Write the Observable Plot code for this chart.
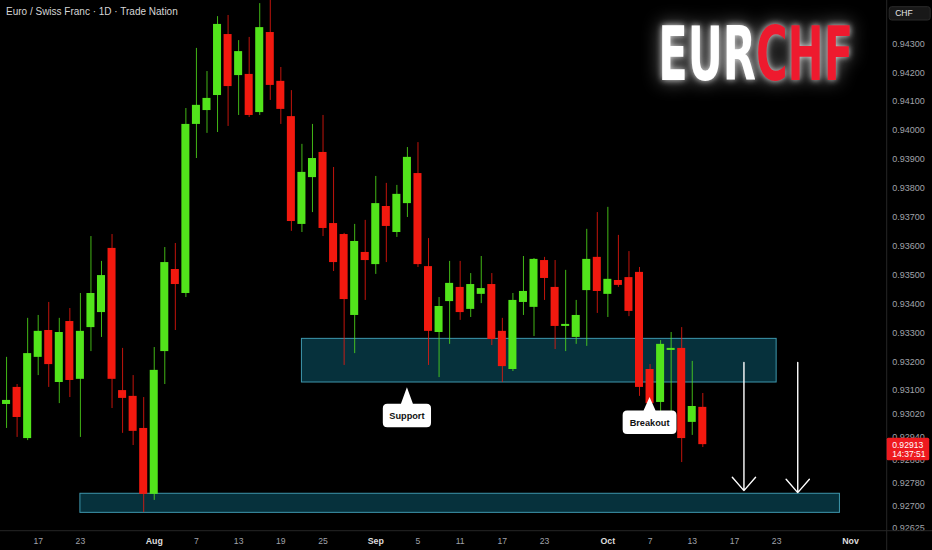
<!DOCTYPE html>
<html><head><meta charset="utf-8">
<script src="https://cdn.jsdelivr.net/npm/d3@7"></script>
<script src="https://cdn.jsdelivr.net/npm/@observablehq/plot@0.6"></script>
<style>
html,body{margin:0;padding:0;background:#000;}
#chart svg{display:block}
</style></head><body><div id="chart"></div>
<script>
// Daily candles, EUR/CHF, 14 Jul 2025 .. 14 Oct 2025 (trading-day index 0..66)
const open = [0.93052,0.93111,0.92934,0.93215,0.93308,0.93128,0.93339,0.93139,0.93318,0.93370,
  0.93592,0.93100,0.93080,0.92969,0.92741,0.93235,0.93519,0.93436,0.94021,0.94069,
  0.94121,0.94332,0.94190,0.94194,0.94062,0.94339,0.94170,0.94048,0.93675,0.93837,
  0.93924,0.93678,0.93640,0.93360,0.93578,0.93536,0.93737,0.93647,0.93747,0.93851,
  0.93529,0.93301,0.93408,0.93457,0.93381,0.93433,0.93467,0.93305,0.93173,0.93405,
  0.93388,0.93550,0.93457,0.93322,0.93284,0.93446,0.93561,0.93433,0.93481,0.93491,
  0.93509,0.93173,0.93059,0.93239,0.93246,0.92990,0.93042];
const close = [0.93066,0.93007,0.93228,0.93305,0.93190,0.93301,0.93135,0.93305,0.93436,0.93498,
  0.93139,0.93073,0.92959,0.92741,0.93170,0.93543,0.93467,0.94021,0.94087,0.94111,
  0.94367,0.94152,0.94273,0.94052,0.94356,0.94156,0.94073,0.93685,0.93855,0.93903,
  0.93661,0.93543,0.93415,0.93616,0.93550,0.93747,0.93668,0.93779,0.93907,0.93536,
  0.93305,0.93391,0.93471,0.93370,0.93467,0.93453,0.93277,0.93183,0.93412,0.93443,
  0.93554,0.93488,0.93322,0.93329,0.93360,0.93554,0.93443,0.93485,0.93464,0.93374,
  0.93111,0.93055,0.93260,0.93246,0.92934,0.93045,0.92913];
const high = [0.93215,0.93121,0.93350,0.93360,0.93405,0.93350,0.93384,0.93436,0.93633,0.93547,
  0.93640,0.93246,0.93152,0.93076,0.93249,0.93595,0.93609,0.94076,0.94284,0.94204,
  0.94394,0.94398,0.94311,0.94322,0.94439,0.94460,0.94218,0.94138,0.93952,0.94021,
  0.94052,0.93872,0.93644,0.93675,0.93689,0.93841,0.93817,0.93810,0.93941,0.93958,
  0.93626,0.93422,0.93547,0.93547,0.93505,0.93564,0.93505,0.93350,0.93436,0.93564,
  0.93557,0.93561,0.93550,0.93516,0.93412,0.93658,0.93716,0.93734,0.93637,0.93581,
  0.93526,0.93190,0.93273,0.93301,0.93318,0.93201,0.93090];
const low = [0.92969,0.92938,0.92927,0.93152,0.93111,0.93055,0.93076,0.92938,0.93235,0.93284,
  0.93038,0.92952,0.92910,0.92678,0.92720,0.93121,0.93308,0.93422,0.93903,0.93990,
  0.93993,0.94014,0.94052,0.94045,0.94052,0.94104,0.94021,0.93651,0.93647,0.93716,
  0.93633,0.93512,0.93187,0.93228,0.93412,0.93502,0.93543,0.93630,0.93699,0.93526,
  0.93187,0.93145,0.93260,0.93343,0.93353,0.93401,0.93256,0.93128,0.93166,0.93360,
  0.93287,0.93412,0.93242,0.93235,0.93260,0.93253,0.93367,0.93353,0.93457,0.93356,
  0.93080,0.93000,0.92969,0.93010,0.92851,0.92945,0.92903];

// x-axis ticks (trading-day index) and labels
const xTickIdx    = [3, 7, 14, 18, 22, 26, 30, 35, 39, 43, 47, 51, 57, 61, 65, 69, 73, 80];
const xTickLabels = ["17","23","Aug","7","13","19","25","Sep","5","11","17","23","Oct","7","13","17","23","Nov"];
// y-axis ticks
const yTicks = [0.943,0.942,0.941,0.940,0.939,0.938,0.937,0.936,0.935,0.934,0.933,0.932,0.931,
  0.9302,0.9294,0.9286,0.9278,0.927,0.92625];

// drawn zones (start/end index, top/bottom price)
const zoneStart  = [28, 7];
const zoneEnd    = [73, 79];
const zoneTop    = [0.93279, 0.92743];
const zoneBottom = [0.93128, 0.92677];

// arrows
const arrowX    = [69.9, 75];
const arrowFrom = [0.93197, 0.93197];
const arrowTo   = [0.92754, 0.92747];

// callouts
const annText = ["Support", "Breakout"];
const annX    = [38, 61];
const annY    = [0.93110, 0.93076];

const title = "Euro / Swiss Franc · 1D · Trade Nation";
const countdown = "14:37:51";

const GREEN = "#52e41b", RED = "#f2190f";
const FONT = "'Liberation Sans', Arial, sans-serif";
const candles = open.map((o, i) => ({i, open: o, close: close[i], high: high[i], low: low[i],
  color: close[i] >= o ? GREEN : RED}));
const zones = zoneStart.map((s, k) => ({start: s, end: zoneEnd[k], top: zoneTop[k], bottom: zoneBottom[k]}));
const arrows = arrowX.map((x, k) => ({x, from: arrowFrom[k], to: arrowTo[k]}));
const labelMap = new Map(xTickIdx.map((d, k) => [d, xTickLabels[k]]));
const isMonth = d => /[A-Za-z]/.test(labelMap.get(d));

const bubbles = (index, scales) => {
  const g = d3.create("svg:g");
  annText.forEach((txt, k) => {
    const tx = scales.x(annX[k]), ty = scales.y(annY[k]);
    const gap = k === 0 ? 16.5 : 13.5, h = 23.5, w = txt.length * 5.6 + 9, r = 4.5;
    const top = ty + gap, bot = top + h, l = tx - w / 2, rr = tx + w / 2;
    const p = `M${tx},${ty}L${tx + 6},${top}H${rr - r}Q${rr},${top} ${rr},${top + r}V${bot - r}Q${rr},${bot} ${rr - r},${bot}H${l + r}Q${l},${bot} ${l},${bot - r}V${top + r}Q${l},${top} ${l + r},${top}H${tx - 6}Z`;
    g.append("path").attr("d", p).attr("fill", "#ffffff");
    g.append("text").attr("x", tx).attr("y", top + h / 2).attr("dy", "0.35em")
      .attr("text-anchor", "middle").attr("font-size", 9.2).attr("font-weight", "bold")
      .attr("font-family", FONT).attr("fill", "#111").text(txt);
  });
  return g.node();
};

const chrome = (index, scales, values, dims) => {
  const g = d3.create("svg:g").attr("text-anchor", "start");
  const fx = dims.width - dims.marginRight;
  const fy = dims.height - dims.marginBottom;
  g.append("line").attr("x1", 0).attr("x2", dims.width).attr("y1", fy).attr("y2", fy).attr("stroke", "#262626");
  g.append("line").attr("x1", fx).attr("x2", fx).attr("y1", 0).attr("y2", dims.height).attr("stroke", "#262626");
  // currency box
  g.append("rect").attr("x", fx + 2.5).attr("y", 6.7).attr("width", 41).attr("height", 13.3).attr("rx", 2.5)
    .attr("fill", "#181818").attr("stroke", "#2a2a2a");
  g.append("text").attr("x", fx + 8.5).attr("y", 13.4).attr("dy", "0.35em").attr("fill", "#e8e8e8")
    .attr("text-anchor", "start").attr("font-size", 8.5).attr("font-family", FONT).text("CHF");
  // last price label
  const last = close[close.length - 1];
  const py = scales.y(last);
  g.append("rect").attr("x", fx).attr("y", py - 6.3).attr("width", 42.5).attr("height", 22.4).attr("rx", 1.5).attr("fill", "#ee1a1f");
  g.append("text").attr("x", fx + 5.5).attr("y", py + 0.4).attr("dy", "0.35em").attr("fill", "#fff")
    .attr("text-anchor", "start").attr("font-size", 8.6).attr("font-family", FONT).text(d3.format(".5f")(last));
  g.append("text").attr("x", fx + 5.5).attr("y", py + 10.2).attr("dy", "0.35em").attr("fill", "#fff")
    .attr("text-anchor", "start").attr("font-size", 8.6).attr("font-family", FONT).text(countdown);
  // logo
  const t = g.append("text").attr("x", fx - 228.5).attr("y", 80).attr("font-size", 74).attr("font-weight", "bold")
    .attr("text-anchor", "start")
    .attr("font-family", "'DejaVu Sans Condensed','DejaVu Sans',sans-serif")
    .attr("textLength", 195).attr("lengthAdjust", "spacingAndGlyphs")
    .style("filter", "drop-shadow(0 0 3px rgba(255,255,255,0.8)) drop-shadow(0 0 9px rgba(255,255,255,0.45))");
  t.append("tspan").attr("fill", "#ffffff").text("EUR");
  t.append("tspan").attr("fill", "#ee1a2e").text("CHF");
  return g.node();
};

const chart = Plot.plot({
  width: 932, height: 550,
  marginLeft: 0, marginRight: 45.3, marginTop: 0, marginBottom: 19.3,
  style: {background: "#000", fontFamily: FONT},
  x: {domain: [-0.5735, 83.48], axis: null},
  y: {domain: [0.926135, 0.944498], axis: null},
  color: {type: "identity"},
  marks: [
    Plot.rect(zones, {x1: "start", x2: "end", y1: "bottom", y2: "top", fill: "#0f7590", fillOpacity: 0.42, stroke: "#3e97ad", strokeWidth: 1}),
    Plot.ruleX(candles, {x: "i", y1: "low", y2: "high", stroke: "color", strokeWidth: 1, strokeOpacity: 0.8}),
    Plot.rect(candles, {x1: d => d.i - 0.38, x2: d => d.i + 0.38, y1: "open", y2: "close", fill: "color"}),
    Plot.arrow(arrows, {x1: "x", x2: "x", y1: "from", y2: "to", stroke: "#ffffff", strokeWidth: 1.4, headLength: 19, headAngle: 82}),
    bubbles,
    Plot.axisY({anchor: "right", ticks: yTicks, tickFormat: d3.format(".5f"), tickSize: 0, tickPadding: 5, fontSize: 9, fill: "#a0a3aa"}),
    Plot.axisX({anchor: "bottom", ticks: xTickIdx.filter(d => !isMonth(d)), tickFormat: d => labelMap.get(d), tickSize: 0, tickPadding: 7, fontSize: 8.6, fill: "#a0a3aa"}),
    Plot.axisX({anchor: "bottom", ticks: xTickIdx.filter(isMonth), tickFormat: d => labelMap.get(d), tickSize: 0, tickPadding: 7, fontSize: 8.8, fontWeight: "bold", fill: "#dcdcdc"}),
    Plot.text([title], {text: d => d, frameAnchor: "top-left", dx: 5.5, dy: 7, fill: "#d6d6d6", fontSize: 10, fontFamily: "'Liberation Sans Narrow','Liberation Sans',Arial,sans-serif"}),
    chrome
  ]
});
document.getElementById("chart").appendChild(chart);
</script>
</body></html>
